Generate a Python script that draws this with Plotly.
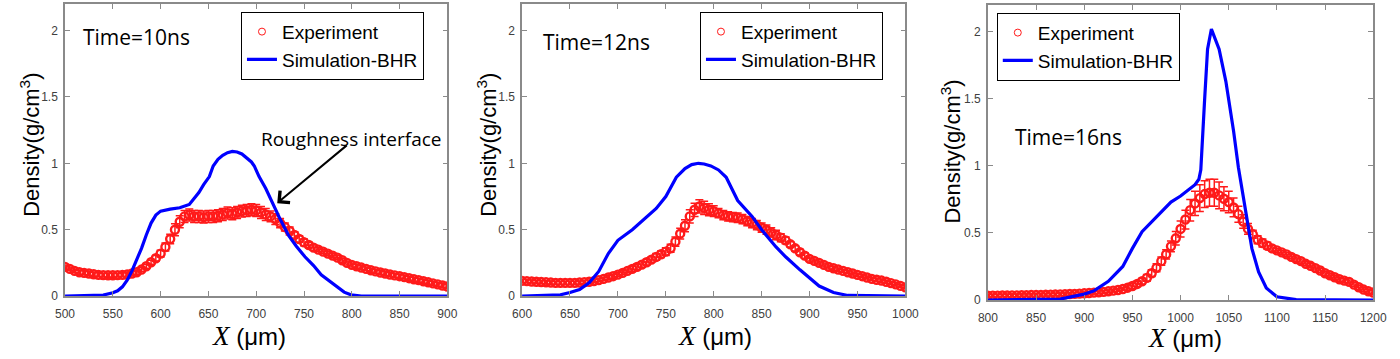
import plotly.graph_objects as go

W, H = 1400, 359

# ---------------- data ----------------
# Panel 1 : Time = 10 ns
exp1_x = list(range(500, 901, 5))
exp1_y = [0.22, 0.205, 0.19, 0.18, 0.175, 0.17, 0.165, 0.16, 0.158, 0.157,
          0.157, 0.158, 0.16, 0.163, 0.17, 0.18, 0.2, 0.225, 0.255, 0.285,
          0.32, 0.37, 0.43, 0.5, 0.56, 0.6, 0.61, 0.6, 0.6, 0.595,
          0.6, 0.6, 0.605, 0.615, 0.625, 0.62, 0.63, 0.64, 0.645, 0.65,
          0.645, 0.63, 0.615, 0.6, 0.58, 0.55, 0.52, 0.49, 0.46, 0.43,
          0.405, 0.385, 0.365, 0.35, 0.335, 0.32, 0.305, 0.29, 0.27, 0.25,
          0.235, 0.225, 0.215, 0.205, 0.195, 0.186, 0.178, 0.17, 0.163, 0.156,
          0.15, 0.143, 0.135, 0.127, 0.12, 0.112, 0.104, 0.096, 0.088, 0.08,
          0.072]
exp1_err = [0.015, 0.015, 0.015, 0.015, 0.015, 0.015, 0.015, 0.015, 0.015, 0.015,
            0.015, 0.015, 0.015, 0.015, 0.015, 0.015, 0.015, 0.015, 0.015, 0.02,
            0.025, 0.03, 0.035, 0.045, 0.045, 0.045, 0.045, 0.045, 0.045, 0.045,
            0.045, 0.045, 0.045, 0.045, 0.045, 0.045, 0.045, 0.045, 0.045, 0.045,
            0.045, 0.045, 0.045, 0.04, 0.04, 0.035, 0.03, 0.03, 0.025, 0.025,
            0.025, 0.02, 0.02, 0.015, 0.015, 0.015, 0.015, 0.015, 0.015, 0.015,
            0.015, 0.015, 0.015, 0.015, 0.015, 0.015, 0.015, 0.015, 0.015, 0.015,
            0.015, 0.015, 0.015, 0.015, 0.015, 0.015, 0.015, 0.015, 0.015, 0.015,
            0.015]
sim1_x = [500, 530, 540, 550, 555, 560, 565, 570, 575, 580, 585, 590, 595, 600,
          610, 620, 630, 640, 645, 651, 655, 660, 665, 670, 675, 680, 685, 690,
          695, 698, 703, 710, 717, 725, 734, 742, 751, 760, 768, 777, 785, 792,
          799, 810, 900]
sim1_y = [0, 0.002, 0.008, 0.025, 0.04, 0.07, 0.12, 0.19, 0.27, 0.36, 0.46, 0.55,
          0.61, 0.64, 0.655, 0.665, 0.69, 0.78, 0.84, 0.9, 0.98, 1.03, 1.06, 1.08,
          1.09, 1.085, 1.07, 1.04, 1.01, 0.98, 0.9, 0.81, 0.7, 0.58, 0.455, 0.375,
          0.296, 0.23, 0.16, 0.11, 0.064, 0.03, 0.01, 0.0, 0.0]

# Panel 2 : Time = 12 ns
exp2_x = list(range(600, 1001, 5))
exp2_y = [0.115, 0.113, 0.11, 0.108, 0.106, 0.104, 0.102, 0.1, 0.1, 0.1,
          0.1, 0.1, 0.102, 0.105, 0.108, 0.113, 0.12, 0.13, 0.14, 0.15,
          0.162, 0.175, 0.19, 0.205, 0.22, 0.237, 0.255, 0.275, 0.295, 0.315,
          0.335, 0.36, 0.41, 0.47, 0.53, 0.6, 0.65, 0.675, 0.665, 0.65,
          0.64, 0.625, 0.61, 0.6, 0.595, 0.59, 0.58, 0.565, 0.55, 0.535,
          0.515, 0.5, 0.48, 0.46, 0.44, 0.42, 0.39, 0.36, 0.33, 0.305,
          0.28, 0.265, 0.25, 0.235, 0.22, 0.21, 0.2, 0.19, 0.18, 0.17,
          0.16, 0.15, 0.14, 0.13, 0.123, 0.117, 0.108, 0.098, 0.088, 0.077,
          0.066]
exp2_err = [0.012, 0.012, 0.012, 0.012, 0.012, 0.012, 0.012, 0.012, 0.012, 0.012,
            0.012, 0.012, 0.012, 0.012, 0.012, 0.012, 0.012, 0.012, 0.015, 0.015,
            0.015, 0.015, 0.015, 0.02, 0.02, 0.02, 0.02, 0.02, 0.025, 0.025,
            0.03, 0.03, 0.035, 0.04, 0.045, 0.05, 0.05, 0.05, 0.05, 0.045,
            0.04, 0.035, 0.035, 0.035, 0.035, 0.035, 0.035, 0.035, 0.035, 0.035,
            0.035, 0.035, 0.035, 0.035, 0.03, 0.025, 0.02, 0.02, 0.02, 0.02,
            0.015, 0.015, 0.015, 0.015, 0.015, 0.015, 0.012, 0.012, 0.012, 0.012,
            0.012, 0.012, 0.012, 0.012, 0.012, 0.012, 0.012, 0.012, 0.012, 0.012,
            0.012]
sim2_x = [600, 630, 640, 650, 660, 670, 680, 690, 700, 715, 725, 740, 750, 761,
          770, 777, 784, 790, 797, 805, 813, 825, 840, 850, 865, 875, 890, 900,
          910, 925, 940, 1000]
sim2_y = [0, 0.003, 0.01, 0.027, 0.05, 0.1, 0.186, 0.32, 0.42, 0.5, 0.565, 0.66,
          0.75, 0.895, 0.96, 0.99, 1.0, 0.995, 0.98, 0.95, 0.895, 0.72, 0.6, 0.5,
          0.37, 0.296, 0.198, 0.137, 0.076, 0.027, 0.005, 0]

# Panel 3 : Time = 16 ns
exp3_x = list(range(800, 1201, 5))
exp3_y = [0.032, 0.033, 0.033, 0.034, 0.034, 0.035, 0.035, 0.036, 0.036, 0.037,
          0.037, 0.038, 0.039, 0.04, 0.041, 0.042, 0.043, 0.045, 0.046, 0.048,
          0.05, 0.052, 0.055, 0.058, 0.061, 0.065, 0.07, 0.075, 0.082, 0.092,
          0.105, 0.12, 0.14, 0.165, 0.2, 0.24, 0.29, 0.34, 0.4, 0.46,
          0.53, 0.6, 0.67, 0.72, 0.76, 0.79, 0.8, 0.8, 0.78, 0.755,
          0.73, 0.69, 0.64, 0.585, 0.53, 0.49, 0.45, 0.425, 0.405, 0.385,
          0.37, 0.355, 0.34, 0.322, 0.305, 0.29, 0.27, 0.255, 0.238, 0.22,
          0.2, 0.185, 0.17, 0.155, 0.145, 0.135, 0.115, 0.095, 0.078, 0.065,
          0.056]
exp3_err = [0.01, 0.01, 0.01, 0.01, 0.01, 0.01, 0.01, 0.01, 0.01, 0.01,
            0.01, 0.01, 0.01, 0.01, 0.01, 0.01, 0.01, 0.01, 0.01, 0.01,
            0.01, 0.01, 0.01, 0.01, 0.01, 0.01, 0.01, 0.01, 0.01, 0.02,
            0.02, 0.02, 0.02, 0.025, 0.025, 0.03, 0.03, 0.035, 0.04, 0.05,
            0.06, 0.07, 0.08, 0.09, 0.1, 0.1, 0.1, 0.1, 0.1, 0.09,
            0.08, 0.07, 0.06, 0.05, 0.04, 0.03, 0.03, 0.03, 0.025, 0.02,
            0.015, 0.015, 0.015, 0.015, 0.015, 0.015, 0.015, 0.015, 0.015, 0.015,
            0.015, 0.015, 0.015, 0.015, 0.015, 0.015, 0.015, 0.015, 0.015, 0.015,
            0.015]
sim3_x = [800, 850, 875, 900, 910, 925, 940, 950, 960, 975, 990, 1000, 1015, 1019,
          1021, 1025, 1028, 1032, 1036, 1040, 1047, 1055, 1060, 1067, 1074, 1081,
          1089, 1100, 1120, 1200]
sim3_y = [0, 0.002, 0.007, 0.044, 0.068, 0.14, 0.25, 0.385, 0.51, 0.62, 0.73, 0.775,
          0.86, 0.9, 0.97, 1.5, 1.87, 2.02, 1.95, 1.87, 1.63, 1.26, 0.99, 0.68,
          0.385, 0.21, 0.09, 0.024, 0.003, 0]

x_ranges = [[500, 900], [600, 1000], [800, 1200]]
y_ticks = [0, 0.5, 1, 1.5, 2]
y_ticktext = ["0", "0.5", "1", "1.5", "2"]
time_labels = ["Time=10ns", "Time=12ns", "Time=16ns"]
legend_names = ["Experiment", "Simulation-BHR"]

# ---------------- layout geometry (pixels) ----------------
plot_px = [  # left, right, top, bottom
    (56, 445, 4, 302),
    (521, 911, 4, 302),
    (995, 1387, 5, 306),
]

def px(x):
    return x / W

def py(y):
    return 1 - y / H

fig = go.Figure()

exps = [(exp1_x, exp1_y, exp1_err), (exp2_x, exp2_y, exp2_err), (exp3_x, exp3_y, exp3_err)]
sims = [(sim1_x, sim1_y), (sim2_x, sim2_y), (sim3_x, sim3_y)]
legend_ids = ["legend", "legend2", "legend3"]

RED = "#ff1a1a"
for i in range(3):
    sfx = "" if i == 0 else str(i + 1)
    ex, ey, ee = exps[i]
    # legend entry for the experiment (thin open circle like the reference key)
    fig.add_trace(go.Scatter(
        x=[None], y=[None], mode="markers", name=legend_names[0],
        xaxis="x" + sfx, yaxis="y" + sfx, legend=legend_ids[i],
        marker=dict(symbol="circle-open", size=7, color=RED, line=dict(width=1)),
    ))
    fig.add_trace(go.Scatter(
        x=ex, y=ey, mode="markers", name=legend_names[0], showlegend=False,
        xaxis="x" + sfx, yaxis="y" + sfx,
        marker=dict(symbol="circle-open", size=8, color=RED, line=dict(width=2.4)),
        error_y=dict(type="data", array=ee, color=RED, thickness=1.5, width=4),
    ))
    sx, sy = sims[i]
    fig.add_trace(go.Scatter(
        x=sx, y=sy, mode="lines", name=legend_names[1],
        xaxis="x" + sfx, yaxis="y" + sfx, legend=legend_ids[i],
        line=dict(color="#0000ff", width=3.2),
    ))

axis_common = dict(
    showgrid=False, zeroline=False, showline=True, linecolor="#8a8a8a", linewidth=1.5,
    mirror="ticks", ticks="inside", ticklen=5, tickcolor="#8a8a8a", tickwidth=1,
    tickfont=dict(family="Liberation Sans, Arial", size=12, color="#404040"),
)

layout = dict(
    width=W, height=H, autosize=False,
    margin=dict(l=0, r=0, t=0, b=0),
    paper_bgcolor="white", plot_bgcolor="white",
    font=dict(family="Liberation Sans, Arial", color="black"),
)

annotations = []
for i in range(3):
    sfx = "" if i == 0 else str(i + 1)
    l, r, t, b = plot_px[i]
    layout["xaxis" + sfx] = dict(
        axis_common, domain=[px(l), px(r)], range=x_ranges[i], dtick=50,
        anchor="y" + sfx, ticklabelstandoff=6,
    )
    layout["yaxis" + sfx] = dict(
        axis_common, domain=[py(b), py(t)], range=[0, 2.2],
        tickvals=y_ticks, ticktext=y_ticktext, anchor="x" + sfx,
        ticklabelstandoff=3,
    )

legend_pos = [(235, 12), (702, 12), (1004, 13)]
for i in range(3):
    key = "legend" if i == 0 else "legend" + str(i + 1)
    lx, ly = legend_pos[i]
    layout[key] = dict(
        x=px(lx), y=py(ly), xanchor="left", yanchor="top",
        bordercolor="black", borderwidth=1, bgcolor="white",
        font=dict(family="Liberation Sans, Arial", size=19, color="black"),
        tracegroupgap=0, itemwidth=30,
    )

# time labels
time_pos = [(129, 38), (597, 43), (1077, 140)]
for i in range(3):
    x0, y0 = time_pos[i]
    annotations.append(dict(
        x=px(x0), y=py(y0), xref="paper", yref="paper", text=time_labels[i],
        showarrow=False, xanchor="center", yanchor="middle",
        font=dict(family="Open Sans, Liberation Sans", size=21, color="black"),
    ))

# axis titles
ytitle_pos = [(20, 148), (485, 148), (957, 155)]
xtitle_pos = [(243, 343), (717, 343), (1195, 345)]
for i in range(3):
    x0, y0 = ytitle_pos[i]
    annotations.append(dict(
        x=px(x0), y=py(y0), xref="paper", yref="paper",
        text="Density(g/cm<sup>3</sup>)", textangle=-90, showarrow=False,
        xanchor="center", yanchor="middle",
        font=dict(family="Liberation Sans, Arial", size=22, color="black"),
    ))
    x0, y0 = xtitle_pos[i]
    annotations.append(dict(
        x=px(x0), y=py(y0), xref="paper", yref="paper",
        text='<span style="font-family:Liberation Serif;font-size:27px"><i>X</i></span> (μm)',
        showarrow=False, xanchor="center", yanchor="middle",
        font=dict(family="Liberation Sans, Arial", size=24, color="black"),
    ))

# roughness annotation with arrow
annotations.append(dict(
    x=px(347), y=py(142), xref="paper", yref="paper", text="Roughness interface",
    showarrow=False, xanchor="center", yanchor="middle",
    font=dict(family="Open Sans, Liberation Sans", size=19, color="black"),
))
annotations.append(dict(
    x=722, y=0.70, xref="x", yref="y", text="", showarrow=True,
    ax=71, ay=-59, axref="pixel", ayref="pixel",
    arrowhead=4, arrowsize=1.5, arrowwidth=2, arrowcolor="black",
))

layout["annotations"] = annotations
fig.update_layout(**layout)

fig.write_html(
    "out.html",
    config={"displayModeBar": False},
    post_script="document.body.style.margin='0';document.body.style.overflow='hidden';",
)
